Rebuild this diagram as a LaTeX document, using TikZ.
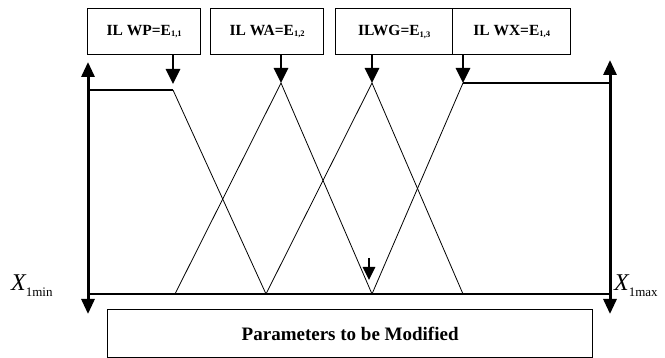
\documentclass[tikz,border=0pt]{standalone}
\usepackage{fontspec}
\setmainfont{Liberation Serif}
\usetikzlibrary{arrows.meta}
\tikzset{
  lbox/.style={draw, line width=1.3pt, inner sep=0pt, anchor=north west},
  lblfont/.style={font=\fontsize{15.5}{15.5}\selectfont\bfseries},
  pointer/.style={line width=2.8pt, -{Triangle[length=15pt,width=14pt]}},
  axisarrow/.style={line width=3pt, {Triangle[length=15pt,width=13pt]}-{Triangle[length=15pt,width=13pt]}},
  mf/.style={line width=0.8pt},
  plateau/.style={line width=1.3pt},
  base/.style={line width=1.4pt}
}
\newcommand{\sublbl}[1]{\raisebox{-0.25ex}{\fontsize{8.5}{8.5}\selectfont\bfseries #1}}
\newcommand{\xlbl}[1]{{\fontsize{24}{24}\selectfont\itshape X}\raisebox{-1.3ex}{\fontsize{13}{13}\selectfont #1}}
\begin{document}
\begin{tikzpicture}[x=1pt,y=-1pt]
\useasboundingbox (0,0) rectangle (665,358);

% labelled boxes on top
\node[lbox, minimum width=113pt, minimum height=46pt, lblfont] (bwp) at (87,8) {IL WP=E\sublbl{1,1}};
\node[lbox, minimum width=113pt, minimum height=46pt, lblfont] (bwa) at (210,8) {IL WA=E\sublbl{1,2}};
\node[lbox, minimum width=117pt, minimum height=46pt, lblfont] (bwg) at (335,8) {ILWG=E\sublbl{1,3}};
\node[lbox, minimum width=118pt, minimum height=46pt, lblfont] (bwx) at (452,8) {IL WX=E\sublbl{1,4}};

% bottom box
\node[lbox, minimum width=485pt, minimum height=48pt,
      font=\fontsize{19}{19}\selectfont\bfseries] (par) at (107,309) {Parameters to be Modified};

% membership function vertices
\coordinate (lp) at (88,90);
\coordinate (p1) at (173,90);
\coordinate (p2) at (281,83);
\coordinate (p3) at (372,83);
\coordinate (p4) at (463,83);
\coordinate (rp) at (610,83);
\coordinate (b1) at (175,294);
\coordinate (b2) at (266,294);
\coordinate (b3) at (372,294);
\coordinate (b4) at (463,294);
\coordinate (bl) at (88,294);
\coordinate (br) at (610,294);

% pointers from the boxes to the peaks
\draw[pointer] (bwp.south -| p1) -- (p1 |- 0,84);
\draw[pointer] (bwa.south -| p2) -- (p2);
\draw[pointer] (bwg.south -| p3) -- (p3);
\draw[pointer] (bwx.south -| p4) -- (p4);

% vertical axes
\coordinate (lt) at (88,62);
\coordinate (lb) at (88,314);
\coordinate (rt) at (610,60);
\coordinate (rb) at (610,314);
\draw[axisarrow] (lb) -- (lt);
\draw[axisarrow] (rb) -- (rt);

% base line
\draw[base] (bl) -- (br);

% membership functions
\draw[plateau] (lp) -- (p1);
\draw[plateau] (p4) -- (rp);
\draw[mf] (p1) -- (b2);
\draw[mf] (b1) -- (p2) -- (b3);
\draw[mf] (b2) -- (p3) -- (b4);
\draw[mf] (b3) -- (p4);

% small marker arrow
\coordinate (ma) at (369,258);
\coordinate (mb) at (369,280);
\draw[line width=2.6pt, -{Triangle[length=13pt,width=12pt]}] (ma) -- (mb);

% range labels
\node[anchor=south west, inner sep=0pt] (xmin) at (11,297) {\xlbl{1min}};
\node[anchor=south west, inner sep=0pt] (xmax) at (614,297) {\xlbl{1max}};
\end{tikzpicture}
\end{document}
